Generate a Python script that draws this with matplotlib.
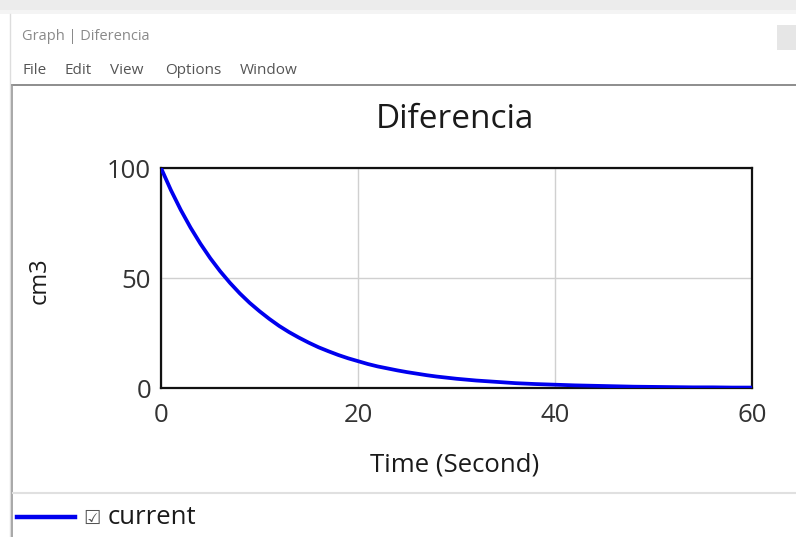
import matplotlib
matplotlib.use("Agg")
import matplotlib.pyplot as plt
from matplotlib.lines import Line2D
from matplotlib.patches import Rectangle

plt.rcParams['font.family'] = ['Open Sans', 'DejaVu Sans']

# Data
time = [0, 1, 2, 3, 4, 5, 6, 7, 8, 9, 10, 11, 12, 13, 14, 15, 16, 17, 18,
        19, 20, 21, 22, 23, 24, 25, 26, 27, 28, 29, 30,
        32, 34, 36, 38, 40, 42, 44, 46, 48, 50, 52, 54, 56, 58, 60]
current = [100, 90, 81, 72.9, 65.6, 59, 53.1, 47.8, 43, 38.7, 34.9, 31.4,
           28.2, 25.4, 22.9, 20.6, 18.5, 16.7, 15, 13.5, 12.2, 10.9, 9.8,
           8.9, 8, 7.2, 6.5, 5.8, 5.2, 4.7, 4.2,
           3.4, 2.8, 2.2, 1.8, 1.5, 1.2, 1.0, 0.8, 0.6, 0.5, 0.4, 0.3,
           0.3, 0.2, 0.2]
x_ticks = [0, 20, 40, 60]
y_ticks = [0, 50, 100]
title = "Diferencia"
x_label = "Time (Second)"
y_label = "cm3"
legend_mark = "\u2611"
legend_label = "current"

W, H = 796, 537
fig = plt.figure(figsize=(W / 100, H / 100), dpi=100)
fig.patch.set_facecolor('white')

def fx(px):
    return px / W

def fy(py):
    return 1 - py / H

# window chrome
fig.patches.append(Rectangle((0, fy(10)), 1, 10 / H, transform=fig.transFigure,
                             facecolor='#ececec', edgecolor='none', zorder=0))
fig.patches.append(Rectangle((0, fy(14)), 1, 4 / H, transform=fig.transFigure,
                             facecolor='#f4f4f4', edgecolor='none', zorder=0))
fig.patches.append(Rectangle((fx(777), fy(50)), 19 / W, 25 / H, transform=fig.transFigure,
                             facecolor='#e6e6e6', edgecolor='none', zorder=0))
fig.lines.append(Line2D([fx(10), fx(10)], [fy(14), fy(537)], transform=fig.transFigure,
                        color='#dddddd', lw=1.0))
fig.lines.append(Line2D([fx(12), fx(796)], [fy(84.5), fy(84.5)], transform=fig.transFigure,
                        color='#7a7a7a', lw=1.2))
fig.lines.append(Line2D([fx(12.5), fx(12.5)], [fy(84.5), fy(537)], transform=fig.transFigure,
                        color='#9a9a9a', lw=1.2))
fig.lines.append(Line2D([fx(13), fx(796)], [fy(493), fy(493)], transform=fig.transFigure,
                        color='#e0e0e0', lw=1.5))

fig.text(fx(22), fy(37), "Graph | Diferencia", fontsize=10.5, color='#8a8a8a',
         ha='left', va='center')
menu_items = ["File", "Edit", "View", "Options", "Window"]
menu_x = [22, 64, 110, 165, 240]
for label, mx in zip(menu_items, menu_x):
    fig.text(fx(mx), fy(70), label, fontsize=11, color='#555555', ha='left', va='center')

# plot area
ax = fig.add_axes([fx(161), fy(388), fx(752) - fx(161), fy(168) - fy(388)])
ax.plot(time, current, color='#0000ee', lw=2.7, solid_capstyle='round', zorder=3)
ax.set_xlim(0, 60)
ax.set_ylim(0, 100)
ax.set_xticks(x_ticks)
ax.set_yticks(y_ticks)
ax.grid(True, color='#d0d0d0', lw=1.0)
for s in ax.spines.values():
    s.set_color('#111111')
    s.set_linewidth(1.6)
ax.tick_params(length=0, labelsize=18.5, colors='#333333')
ax.tick_params(axis='y', pad=7)
ax.tick_params(axis='x', pad=11)

fig.text(fx(455), fy(120), title, fontsize=24, color='#1a1a1a', ha='center', va='center')
fig.text(fx(455), fy(465), x_label, fontsize=18.5, color='#1a1a1a', ha='center', va='center')
fig.text(fx(40), fy(281), y_label, fontsize=17, color='#1a1a1a', ha='center', va='center',
         rotation=90)

# legend
fig.lines.append(Line2D([fx(17), fx(75)], [fy(517), fy(517)], transform=fig.transFigure,
                        color='#0000ee', lw=3.2))
fig.text(fx(83), fy(518), legend_mark, fontsize=14, color='#555555', ha='left', va='center',
         family=['DejaVu Sans'])
fig.text(fx(108), fy(517), legend_label, fontsize=18.5, color='#1a1a1a', ha='left', va='center')

fig.savefig("out.png", dpi=100)
